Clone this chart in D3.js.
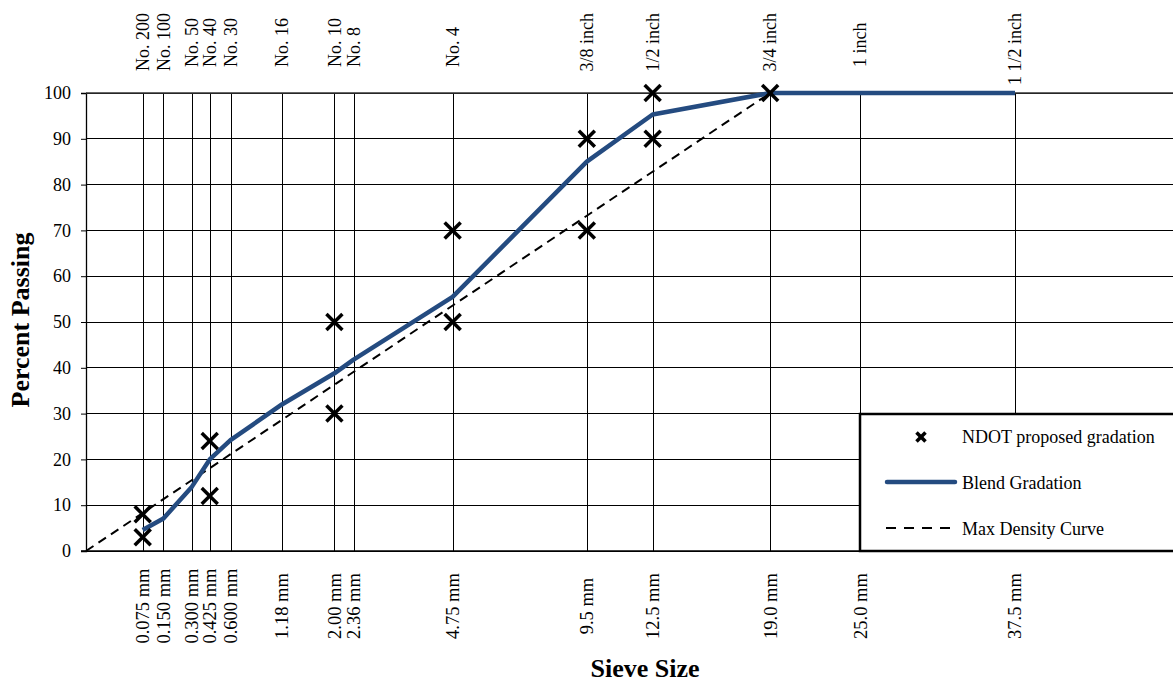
<html>
<head>
<meta charset="UTF-8">
<title>Gradation Chart</title>
<script src="https://cdn.jsdelivr.net/npm/d3@7"></script>
<style>
  body { margin: 0; background: #fff; }
  text { font-family: "Liberation Serif", "Times New Roman", serif; fill: #000; }
</style>
</head>
<body>
<div id="chart"></div>
<script>
// sieve sizes (mm) and their labels
var sieves = [0.075, 0.15, 0.3, 0.425, 0.6, 1.18, 2.0, 2.36, 4.75, 9.5, 12.5, 19.0, 25.0, 37.5];
var topLabels = ["No. 200", "No. 100", "No. 50", "No. 40", "No. 30", "No. 16", "No. 10", "No. 8", "No. 4", "3/8 inch", "1/2 inch", "3/4 inch", "1 inch", "1 1/2 inch"];
var bottomLabels = ["0.075 mm", "0.150 mm", "0.300 mm", "0.425 mm", "0.600 mm", "1.18 mm", "2.00 mm", "2.36 mm", "4.75 mm", "9.5 mm", "12.5 mm", "19.0 mm", "25.0 mm", "37.5 mm"];
var yTicks = [0, 10, 20, 30, 40, 50, 60, 70, 80, 90, 100];

// NDOT proposed gradation limits
var ndotSize = [0.075, 0.075, 0.425, 0.425, 2.0, 2.0, 4.75, 4.75, 9.5, 9.5, 12.5, 12.5, 19.0];
var ndotPass = [8, 3, 24, 12, 50, 30, 70, 50, 90, 70, 100, 90, 100];

// blend gradation
var blendSize = [0.075, 0.15, 0.3, 0.425, 0.6, 1.18, 2.0, 2.36, 4.75, 9.5, 12.5, 19.0, 25.0, 37.5];
var blendPass = [4.6, 7.1, 14, 20, 24.2, 32, 38.8, 41.8, 55.5, 85, 95.3, 100, 100, 100];

// max density curve (straight in the 0.45 power scale)
var mdSize = [0, 19.0, 37.5];
var mdPass = [0, 100, 100];

var W = 1173, H = 684;
var L = 86, R = 1173, T = 93, B = 551;

var svg = d3.select("#chart").append("svg").attr("width", W).attr("height", H);

var x = d3.scalePow().exponent(0.45).domain([0, 37.5]).range([L, 1015]);
var y = d3.scaleLinear().domain([0, 100]).range([B, T]);

// horizontal grid
svg.append("g").selectAll("line").data(yTicks).enter().append("line")
	.attr("x1", L).attr("x2", R)
	.attr("y1", function(d){ return y(d); }).attr("y2", function(d){ return y(d); })
	.style("stroke", "#000").style("stroke-width", 1).attr("shape-rendering", "crispEdges");

// vertical grid
svg.append("g").selectAll("line").data(sieves).enter().append("line")
	.attr("x1", function(d){ return Math.round(x(d)) + 0.5; }).attr("x2", function(d){ return Math.round(x(d)) + 0.5; })
	.attr("y1", T).attr("y2", B)
	.style("stroke", "#000").style("stroke-width", 1);

// y axis
var yAxis = d3.axisLeft(y).tickValues(yTicks).tickSize(5).tickPadding(10);
var ga = svg.append("g").attr("transform", "translate(" + L + ",0)").call(yAxis);
ga.select(".domain").style("stroke", "#000").style("stroke-width", 1.3);
ga.selectAll(".tick line").style("stroke", "#000");
ga.selectAll("text").style("font-family", "Liberation Serif").style("font-size", "18px").attr("fill", "#000");
svg.append("line").attr("x1", L - 5).attr("x2", R).attr("y1", B).attr("y2", B).style("stroke", "#000").style("stroke-width", 1.5);
svg.append("line").attr("x1", L).attr("x2", R).attr("y1", T).attr("y2", T).style("stroke", "#333").style("stroke-width", 1.5);

// top labels (pushed down when they would run off the top)
svg.append("g").selectAll("text").data(sieves).enter().append("text")
	.attr("dy", "0.35em").attr("text-anchor", "start")
	.style("font-size", "18px")
	.text(function(d, i){ return topLabels[i]; })
	.attr("transform", function(d){
		var len = this.getComputedTextLength();
		var y0 = Math.max(67, len + 13);
		return "translate(" + x(d) + "," + y0 + ") rotate(-90)";
	});

// bottom labels
svg.append("g").selectAll("text").data(sieves).enter().append("text")
	.attr("transform", function(d){ return "translate(" + x(d) + ",606) rotate(-90)"; })
	.attr("dy", "0.35em").attr("text-anchor", "middle")
	.style("font-size", "18.5px")
	.text(function(d, i){ return bottomLabels[i]; });

// max density curve
var md = mdSize.map(function(d, i){ return [d, mdPass[i]]; });
var line = d3.line().x(function(d){ return x(d[0]); }).y(function(d){ return y(d[1]); });
svg.append("path").datum(md).attr("d", line)
	.style("fill", "none").style("stroke", "#000").style("stroke-width", 2).style("stroke-dasharray", "9,6");

// blend gradation
var blend = blendSize.map(function(d, i){ return [d, blendPass[i]]; });
svg.append("path").datum(blend).attr("d", line)
	.style("fill", "none").style("stroke", "#244b80").style("stroke-width", 4.5).style("stroke-linejoin", "round");

// NDOT markers
var cross = function(g, s, w){
	g.append("line").attr("x1", -s).attr("y1", -s).attr("x2", s).attr("y2", s).style("stroke", "#000").style("stroke-width", w);
	g.append("line").attr("x1", -s).attr("y1", s).attr("x2", s).attr("y2", -s).style("stroke", "#000").style("stroke-width", w);
};
ndotSize.forEach(function(d, i){
	var g = svg.append("g").attr("transform", "translate(" + x(d) + "," + y(ndotPass[i]) + ")");
	cross(g, 8, 3.5);
});

// legend
var lg = svg.append("g");
lg.append("rect").attr("x", 860).attr("y", 414).attr("width", 330).attr("height", 137)
	.style("fill", "#fff").style("stroke", "#000").style("stroke-width", 2.5);
var mk = lg.append("g").attr("transform", "translate(921,437)");
cross(mk, 4.5, 3.5);
lg.append("text").attr("x", 962).attr("y", 443).style("font-size", "18px").text("NDOT proposed gradation");
lg.append("line").attr("x1", 887).attr("x2", 955).attr("y1", 482).attr("y2", 482)
	.style("stroke", "#244b80").style("stroke-width", 4.5).style("stroke-linecap", "round");
lg.append("text").attr("x", 962).attr("y", 489).style("font-size", "18px").text("Blend Gradation");
lg.append("line").attr("x1", 886).attr("x2", 951).attr("y1", 528).attr("y2", 528)
	.style("stroke", "#000").style("stroke-width", 2).style("stroke-dasharray", "10,8");
lg.append("text").attr("x", 962).attr("y", 535).style("font-size", "18px").text("Max Density Curve");

// axis titles
svg.append("text").attr("transform", "translate(29,320) rotate(-90)").attr("text-anchor", "middle")
	.style("font-size", "26px").style("font-weight", "bold").text("Percent Passing");
svg.append("text").attr("x", 645).attr("y", 677).attr("text-anchor", "middle")
	.style("font-size", "26px").style("font-weight", "bold").text("Sieve Size");
</script>
</body>
</html>
